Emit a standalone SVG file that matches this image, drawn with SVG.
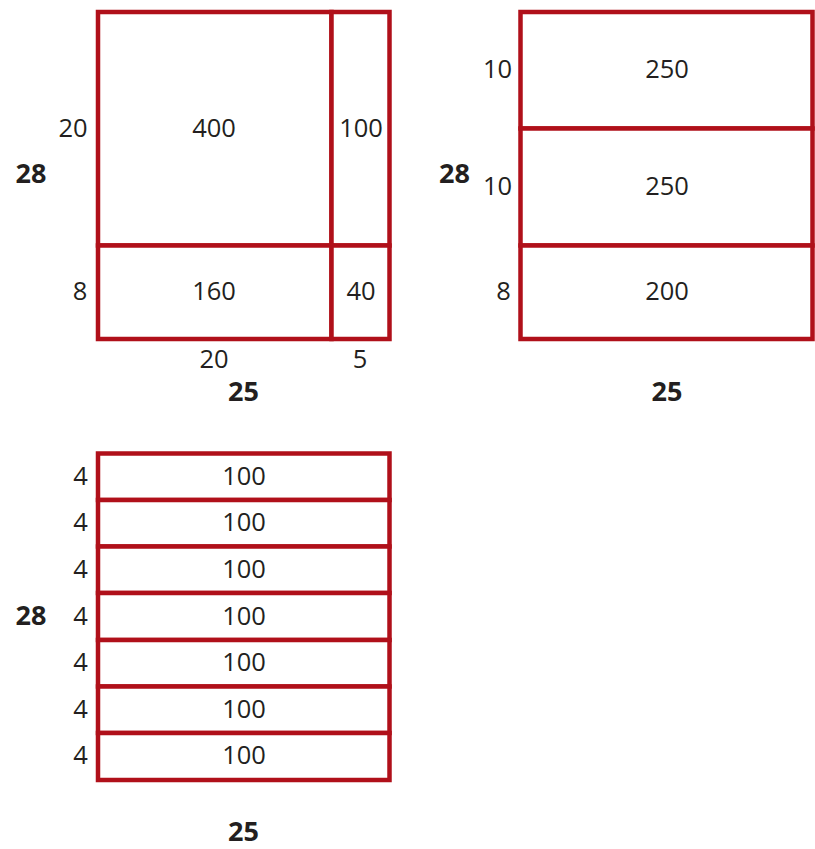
<svg xmlns="http://www.w3.org/2000/svg" width="815" height="849" viewBox="0 0 815 849">
<style>
.c{fill:#fff;stroke:#b0101a;stroke-width:4.5}
.t{font-family:"Open Sans","Noto Sans",sans-serif;font-size:25.5px;fill:#231f20;text-anchor:middle}
.b{font-weight:bold;font-size:27px}
</style>
<rect width="815" height="849" fill="#fff"/>
<g id="panel1">
  <g id="p1-400"><rect class="c" x="98" y="12" width="233.5" height="233.5"/><text class="t" x="214" y="137.3">400</text></g>
  <g id="p1-100"><rect class="c" x="331.5" y="12" width="58" height="233.5"/><text class="t" x="361" y="137.3">100</text></g>
  <g id="p1-160"><rect class="c" x="98" y="245.5" width="233.5" height="93.5"/><text class="t" x="214" y="299.8">160</text></g>
  <g id="p1-40"><rect class="c" x="331.5" y="245.5" width="58" height="93.5"/><text class="t" x="361" y="299.8">40</text></g>
  <text class="t" x="73" y="137.3">20</text>
  <text class="t" x="80" y="299.8">8</text>
  <text class="t b" x="31" y="183.3">28</text>
  <text class="t" x="214" y="367.8">20</text>
  <text class="t" x="360" y="367.8">5</text>
  <text class="t b" x="243.5" y="401">25</text>
</g>
<g id="panel2">
  <g id="p2-250a"><rect class="c" x="520.5" y="12" width="292" height="116.5"/><text class="t" x="667" y="78.3">250</text></g>
  <g id="p2-250b"><rect class="c" x="520.5" y="128.5" width="292" height="117"/><text class="t" x="667" y="194.8">250</text></g>
  <g id="p2-200"><rect class="c" x="520.5" y="245.5" width="292" height="93.5"/><text class="t" x="667" y="299.8">200</text></g>
  <text class="t" x="497.5" y="78.3">10</text>
  <text class="t" x="497.5" y="194.8">10</text>
  <text class="t" x="503.5" y="299.8">8</text>
  <text class="t b" x="454.5" y="183.3">28</text>
  <text class="t b" x="667" y="401">25</text>
</g>
<g id="panel3">
  <g id="p3-r1"><rect class="c" x="98" y="453.5" width="291.5" height="46.5"/><text class="t" x="244" y="484.8">100</text></g>
  <g id="p3-r2"><rect class="c" x="98" y="500" width="291.5" height="46.5"/><text class="t" x="244" y="531.3">100</text></g>
  <g id="p3-r3"><rect class="c" x="98" y="546.5" width="291.5" height="46.5"/><text class="t" x="244" y="577.8">100</text></g>
  <g id="p3-r4"><rect class="c" x="98" y="593" width="291.5" height="47"/><text class="t" x="244" y="624.8">100</text></g>
  <g id="p3-r5"><rect class="c" x="98" y="640" width="291.5" height="46.5"/><text class="t" x="244" y="671.3">100</text></g>
  <g id="p3-r6"><rect class="c" x="98" y="686.5" width="291.5" height="46.5"/><text class="t" x="244" y="717.8">100</text></g>
  <g id="p3-r7"><rect class="c" x="98" y="733" width="291.5" height="47"/><text class="t" x="244" y="764.3">100</text></g>
  <text class="t" x="80.5" y="484.8">4</text>
  <text class="t" x="80.5" y="531.3">4</text>
  <text class="t" x="80.5" y="577.8">4</text>
  <text class="t" x="80.5" y="624.8">4</text>
  <text class="t" x="80.5" y="671.3">4</text>
  <text class="t" x="80.5" y="717.8">4</text>
  <text class="t" x="80.5" y="764.3">4</text>
  <text class="t b" x="31" y="625">28</text>
  <text class="t b" x="243.5" y="841">25</text>
</g>
<g id="connectors"></g>
</svg>
